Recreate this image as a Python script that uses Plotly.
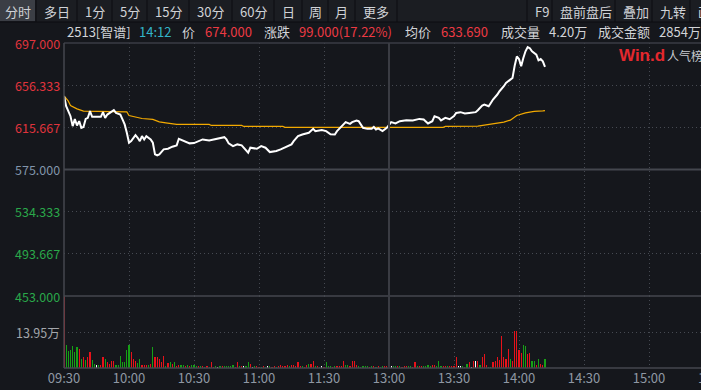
import plotly.graph_objects as go

# ---------------- data ----------------
prev_close = 575.0
price_times = ["09:30","09:31","09:33","09:34","09:35","09:36","09:37","09:38","09:39","09:40",
               "09:41","09:42","09:43","09:45","09:47","09:48","09:49","09:50","09:52","09:53",
               "09:54","09:56","09:57","09:58","09:59","10:00","10:01","10:02","10:03","10:04",
               "10:05","10:06","10:07","10:08","10:10","10:11","10:12","10:13","10:14","10:16",
               "10:18","10:20","10:22","10:23","10:26","10:28","10:30","10:32","10:34","10:37",
               "10:40","10:43","10:44","10:45","10:46","10:48","10:50","10:52","10:53","10:55",
               "10:56","10:59","11:01","11:03","11:05","11:08","11:10","11:13","11:15","11:16",
               "11:18","11:20","11:23","11:25","11:26","11:29","11:31","11:33","11:35","11:36",
               "11:38","11:40","11:42","11:43","11:45","11:46","11:48","11:50","11:52","11:53",
               "11:54","11:55","11:57","11:59","13:01","13:03","13:05","13:08","13:11","13:14",
               "13:16","13:18","13:20","13:21","13:23","13:24","13:26","13:28","13:30","13:31",
               "13:33","13:35","13:37","13:40","13:41","13:43","13:44","13:46","13:47","13:48",
               "13:50","13:51","13:53","13:54","13:56","13:57","13:58","13:59","14:00","14:01",
               "14:02","14:03","14:04","14:05","14:06","14:07","14:08","14:09","14:10","14:11",
               "14:12"]
prices = [646.0,636.0,626.4,616.8,623.6,617.5,621.6,615.2,616.0,623.8,
          624.8,631.3,625.8,625.8,625.8,630.3,624.8,628.0,631.3,632.2,
          629.6,628.0,623.3,618.5,610.4,600.8,602.4,605.6,608.2,605.6,
          602.4,607.2,604.0,607.2,604.0,600.8,589.6,588.7,589.6,594.4,
          595.0,597.0,598.3,604.6,602.4,600.2,600.5,602.0,604.0,603.0,
          604.6,605.6,606.2,604.0,600.2,597.6,599.2,598.3,596.0,591.2,
          596.0,595.0,597.6,596.0,591.8,592.8,594.4,597.6,599.2,602.4,
          607.2,608.8,610.4,614.2,612.0,613.0,612.0,609.0,608.8,612.0,
          616.8,620.7,619.0,620.7,622.3,621.6,615.2,614.2,614.2,616.0,
          613.6,614.6,612.0,615.2,620.7,619.4,621.6,622.6,622.3,623.8,
          623.3,619.4,621.6,626.4,624.8,622.3,624.8,623.5,626.5,629.6,
          630.3,629.0,629.6,630.3,632.2,636.7,637.7,636.0,639.2,642.5,
          647.3,650.5,655.3,658.5,661.7,663.3,675.0,684.0,681.5,674.5,
          682.5,689.0,693.0,692.0,689.0,687.3,685.8,680.3,681.5,679.3,
          674.0]

avg_times = ["09:30","09:32","09:33","09:36","09:39","09:59","10:00","10:03","10:06","10:11",
             "10:14","10:17","10:22","10:37","10:38","10:52","10:53","11:11","11:12","13:25",
             "13:26","13:41","13:48","13:53","13:56","13:58","13:59","14:03","14:07","14:11","14:12"]
avg_prices = [646.0,640.9,636.7,633.5,631.3,630.6,627.1,625.5,624.2,623.3,
              621.0,620.0,618.5,618.5,617.5,617.5,616.5,616.5,615.6,615.6,
              616.5,616.8,619.4,620.7,622.6,625.8,627.1,629.6,631.0,631.5,631.7]

# per-minute volume (万股) from 09:30, and direction (r=up, g=down, w=flat), 10 per row
volumes = [27.9,8.8,6.7,6.8,8.4,6.1,8.0,7.5,3.6,4.1,
           3.2,4.1,6.1,3.2,1.5,1.2,1.3,1.2,4.1,3.6,
           2.2,1.4,2.8,2.6,1.3,1.3,4.8,2.2,2.2,7.1,
           9.0,6.1,3.6,2.6,1.9,3.6,1.0,1.0,1.0,1.0,
           1.5,8.0,4.1,4.1,3.6,2.2,4.5,0.6,1.9,2.2,
           1.5,2.2,0.6,1.3,1.0,1.0,0.6,1.3,0.6,1.0,
           1.0,0.8,0.9,0.6,0.8,0.5,0.7,0.4,2.2,0.5,
           0.9,0.5,0.9,0.6,0.8,0.7,0.9,0.6,1.2,0.5,
           2.2,0.9,0.6,0.8,0.6,2.2,1.7,0.4,0.8,0.6,
           0.5,0.4,0.7,0.5,0.9,0.6,0.4,0.7,0.5,0.8,
           1.0,0.6,0.9,1.3,0.8,1.0,1.2,0.7,2.2,0.6,
           0.9,0.5,1.0,1.7,1.7,2.6,0.8,0.6,0.5,0.7,
           0.5,2.2,0.6,0.9,0.5,0.6,0.8,0.6,0.9,2.6,
           1.2,1.2,0.7,2.6,2.6,1.0,0.6,0.5,0.8,0.6,
           0.9,0.5,0.6,0.7,0.4,0.8,0.5,0.6,0.7,0.9,
           0.7,0.6,0.8,0.9,0.6,0.8,0.5,0.7,0.9,0.6,
           0.8,0.5,2.2,0.7,0.9,0.6,0.8,0.6,1.2,0.9,
           1.0,1.0,0.6,2.8,0.8,0.7,0.9,0.6,0.7,0.9,
           0.9,4.3,0.9,0.9,0.8,0.5,1.7,2.2,0.5,2.6,
           2.6,2.6,1.0,4.3,5.5,1.0,0.5,0.5,2.2,2.6,
           4.3,3.2,12.5,4.3,3.5,7.4,3.5,2.8,14.5,14.2,
           7.1,5.8,9.0,8.6,5.4,5.8,2.6,2.8,1.3,3.6,
           1.7,1.3,3.6]
vol_dirs = ("rggggggrgr" "grrggwgrrg" "rrrrgggggg" "grrrggrrrg" "rgrrrrrgrg"
            "rgrrggrgrg" "ggrgrgrgrr" "gwgrgggggr" "rgrwggrwgr" "rgrgwgrrgr"
            "rrrrgrrrrr" "grrgrrgrgw" "rgggrgrrrr" "ggrrrrgggg" "grgrgrggrr"
            "rwggrgrrrg" "grrgrrgggg" "rrgggrrgrr" "rrwwgggrwr" "wrgrrrggrr"
            "rrrrrrgrrr" "rrggrrggrg" "rrg")

y_ticks = [697.000, 656.333, 615.667, 575.000, 534.333, 493.667, 453.000]
vol_mid_label = "13.95万"
vol_axis_max = 27.9
x_tick_labels = ["09:30","10:00","10:30","11:00","11:30","13:00","13:30","14:00","14:30","15:00","15:30","16:00"]

toolbar_left = ["分时","多日","1分","5分","15分","30分","60分","日","周","月","更多"]
toolbar_right = ["F9","盘前盘后","叠加","九转","画线"]
quote_items = [("2513[智谱]", "#d2d4d8"), ("14:12", "#33b5c9"), ("价", "#d2d4d8"),
               ("674.000", "#ec3a43"), ("涨跌", "#d2d4d8"), ("99.000(17.22%)", "#ec3a43"),
               ("均价", "#d2d4d8"), ("633.690", "#ec3a43"), ("成交量", "#d2d4d8"),
               ("4.20万", "#d2d4d8"), ("成交金额", "#d2d4d8"), ("2854万", "#d2d4d8")]

# ---------------- helpers ----------------
def tidx(t):
    h, m = map(int, t.split(":"))
    mins = h * 60 + m
    return mins - 570 if mins <= 720 else mins - 780 + 150

W, H = 701, 390
L, R, T, B = 64, 0, 43, 22
PX_PER_MIN = 65 / 30.0
XMAX = (W - L - R) / PX_PER_MIN
vol_frac = 72 / (H - T - B)

def px(xp):
    return (xp - L) / (W - L - R)

def py(yp):
    return (H - B - yp) / (H - T - B)

FONT = "Noto Sans CJK SC, Microsoft YaHei, sans-serif"
BG = "#15171c"
GRID = "#464a52"
SOLID = "#3a3d44"
RED = "#e8121a"
GREEN = "#16a016"

fig = go.Figure()

vol_x = list(range(len(volumes)))
cmap = {"r": RED, "g": GREEN, "w": "#ffffff"}
vol_colors = [cmap[c] for c in vol_dirs[:len(volumes)]]
fig.add_trace(go.Bar(x=vol_x, y=volumes, marker=dict(color=vol_colors, line=dict(width=0)),
                     width=0.55, xaxis="x", yaxis="y2", hoverinfo="skip"))

fig.add_trace(go.Scatter(x=[tidx(t) for t in avg_times], y=avg_prices, mode="lines",
                         line=dict(color="#f2a900", width=1.2), xaxis="x", yaxis="y", hoverinfo="skip"))
fig.add_trace(go.Scatter(x=[tidx(t) for t in price_times], y=prices, mode="lines",
                         line=dict(color="#ffffff", width=2), xaxis="x", yaxis="y", hoverinfo="skip"))

tick_idx = [30 * i for i in range(len(x_tick_labels))]
fig.update_layout(
    width=W, height=H, margin=dict(l=L, r=R, t=T, b=B, pad=0),
    paper_bgcolor=BG, plot_bgcolor=BG, showlegend=False, bargap=0,
    font=dict(family=FONT, size=12, color="#c8cacf"),
    xaxis=dict(range=[0, XMAX], domain=[0, 1], anchor="y2", tickvals=tick_idx, ticktext=x_tick_labels,
               showgrid=True, gridcolor=GRID, griddash="1px,3px", gridwidth=1, zeroline=False,
               showline=False, ticks="", tickfont=dict(size=13, color="#8f97a3", family=FONT),
               ticklabelstandoff=1),
    yaxis=dict(range=[y_ticks[-1], y_ticks[0]], domain=[vol_frac, 1],
               tickvals=[v for v in y_ticks if v not in (prev_close, y_ticks[0], y_ticks[-1])],
               showticklabels=False, showgrid=True, gridcolor=GRID, griddash="1px,3px", zeroline=False),
    yaxis2=dict(range=[0, vol_axis_max], domain=[0, vol_frac], tickvals=[vol_axis_max / 2],
                showticklabels=False, showgrid=True, gridcolor=GRID, griddash="1px,3px", zeroline=False),
)

shapes = []
shapes.append(dict(type="line", xref="paper", yref="y", x0=0, x1=1, y0=prev_close, y1=prev_close,
                   line=dict(color="#44474e", width=2)))
shapes.append(dict(type="line", xref="paper", yref="paper", x0=0, x1=1, y0=vol_frac, y1=vol_frac,
                   line=dict(color="#44474e", width=1.5)))
shapes.append(dict(type="line", xref="paper", yref="paper", x0=0, x1=1, y0=1, y1=1,
                   line=dict(color=SOLID, width=1.5)))
shapes.append(dict(type="line", xref="paper", yref="paper", x0=0, x1=1, y0=0, y1=0,
                   line=dict(color="#44474e", width=1.5)))
shapes.append(dict(type="line", xref="x", yref="paper", x0=tidx("13:00"), x1=tidx("13:00"), y0=0, y1=1,
                   line=dict(color="#3a3c43", width=2)))
shapes.append(dict(type="line", xref="paper", yref="paper", x0=0, x1=0, y0=0, y1=1,
                   line=dict(color="#44474e", width=1.5)))

shapes.append(dict(type="rect", xref="paper", yref="paper", x0=px(0), x1=px(W), y0=py(22), y1=py(0),
                   fillcolor="#1b1d22", line=dict(width=0), layer="below"))
tab_edges_left = [0, 36, 77, 112, 147, 189, 232, 274, 302, 328, 355, 397]
tab_edges_right = [527, 552, 615, 652, 690, 735]
shapes.append(dict(type="rect", xref="paper", yref="paper", x0=px(0), x1=px(35), y0=py(21), y1=py(0),
                   fillcolor="#3b3e45", line=dict(width=0)))
for e in tab_edges_left[1:] + tab_edges_right:
    shapes.append(dict(type="line", xref="paper", yref="paper", x0=px(e), x1=px(e), y0=py(22), y1=py(0),
                       line=dict(color="#0c0d10", width=1)))
shapes.append(dict(type="line", xref="paper", yref="paper", x0=px(0), x1=px(W), y0=py(22), y1=py(22),
                   line=dict(color="#0c0d10", width=1)))

ann = []
for lab, a, b in zip(toolbar_left, tab_edges_left[:-1], tab_edges_left[1:]):
    ann.append(dict(text=lab, x=px((a + b) / 2), y=py(11), xref="paper", yref="paper", showarrow=False,
                    xanchor="center", yanchor="middle", font=dict(size=13, color="#d0d2d6")))
for lab, a, b in zip(toolbar_right, tab_edges_right[:-1], tab_edges_right[1:]):
    ann.append(dict(text=lab, x=px(a + 6), y=py(11), xref="paper", yref="paper", showarrow=False,
                    xanchor="left", yanchor="middle", font=dict(size=13, color="#d0d2d6")))

quote_x = [65, 137, 180, 203, 262, 297, 403, 439, 499, 547, 596, 657]
for (txt, col), xq in zip(quote_items, quote_x):
    ann.append(dict(text=txt, x=px(xq), y=py(31.5), xref="paper", yref="paper", showarrow=False,
                    xanchor="left", yanchor="middle", font=dict(size=13, color=col)))

for v in y_ticks:
    col = "#e0343d" if v > prev_close else ("#2aa84a" if v < prev_close else "#8296ab")
    ann.append(dict(text=f"{v:.3f}", x=0, y=v, xref="paper", yref="y", showarrow=False,
                    xanchor="right", yanchor="middle", xshift=-2, font=dict(size=12.5, color=col)))
ann.append(dict(text=vol_mid_label, x=0, y=vol_axis_max / 2, xref="paper", yref="y2", showarrow=False,
                xanchor="right", yanchor="middle", xshift=-2, font=dict(size=12.5, color="#a3a6ab")))

ann.append(dict(text=x_tick_labels[10], x=px(L + tick_idx[10] * PX_PER_MIN), y=py(378), xref="paper", yref="paper",
                showarrow=False, xanchor="center", yanchor="middle", font=dict(size=13, color="#8f97a3")))

ann.append(dict(text="<b>Win.d</b>", x=px(617), y=py(55), xref="paper", yref="paper", showarrow=False,
                xanchor="left", yanchor="middle", font=dict(size=17, color="#e5282e", family="Arial, Liberation Sans")))
ann.append(dict(text="人气榜", x=px(665), y=py(55), xref="paper", yref="paper", showarrow=False,
                xanchor="left", yanchor="middle", font=dict(size=12, color="#c8cacf")))

fig.update_layout(shapes=shapes, annotations=ann)
fig.write_html("out.html", config={"displayModeBar": False, "staticPlot": True},
               post_script="document.body.style.margin='0';document.body.style.overflow='hidden';"
                           "document.querySelectorAll('.bars path').forEach(function(p){p.style.shapeRendering='crispEdges';});")
